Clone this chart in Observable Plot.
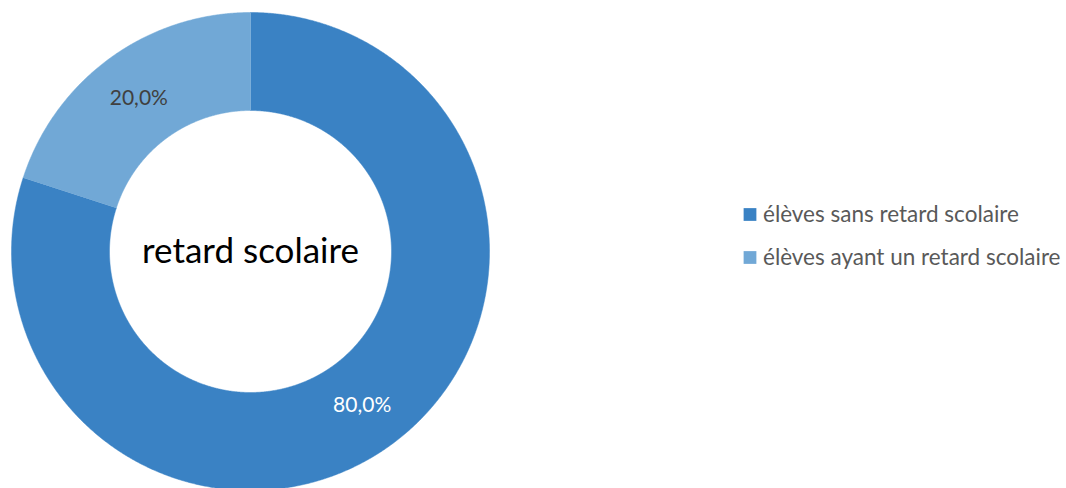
<!DOCTYPE html>
<html><head><meta charset="utf-8">
<script src="https://cdn.jsdelivr.net/npm/d3@7"></script>
<script src="https://cdn.jsdelivr.net/npm/@observablehq/plot@0.6"></script>
<style>html,body{margin:0;padding:0;background:#fff;} svg{display:block;}</style>
</head><body><div id="chart"></div>
<script>
const categories = ["élèves sans retard scolaire", "élèves ayant un retard scolaire"];
const values = [80.0, 20.0];
const labels = ["80,0%", "20,0%"];
const colors = ["#3A82C4", "#71A8D6"];
const centerTitle = "retard scolaire";

const W = 1066, H = 488;
const cx = 250, cy = 251, rOuter = 239, rInner = 141;

const pie = d3.pie().sort(null).value(d => d.value);
const arcs = pie(categories.map((c, i) => ({category: c, value: values[i], label: labels[i]})));

// ring polygons sampled from pie angles
const ringPts = [];
arcs.forEach(a => {
  const n = Math.max(2, Math.ceil((a.endAngle - a.startAngle) / 0.005));
  const pts = [];
  for (let k = 0; k <= n; k++) {
    const t = a.startAngle + (a.endAngle - a.startAngle) * k / n;
    pts.push([cx + rOuter * Math.sin(t), cy - rOuter * Math.cos(t)]);
  }
  for (let k = n; k >= 0; k--) {
    const t = a.startAngle + (a.endAngle - a.startAngle) * k / n;
    pts.push([cx + rInner * Math.sin(t), cy - rInner * Math.cos(t)]);
  }
  pts.forEach(p => ringPts.push({category: a.data.category, x: p[0], y: p[1]}));
});

const rMid = (rOuter + rInner) / 2;
const labelPts = arcs.map(a => {
  const m = (a.startAngle + a.endAngle) / 2;
  return {label: a.data.label, x: cx + rMid * Math.sin(m), y: cy - rMid * Math.cos(m), white: a.data.value > 50};
});

const legendRows = categories.map((c, i) => ({category: c, x: 749.5, y: 214 + i * 43}));

const font = "Lato, 'Open Sans', sans-serif";

const chart = Plot.plot({
  width: W, height: H,
  margin: 0,
  x: {domain: [0, W], range: [0, W], axis: null},
  y: {domain: [0, H], range: [0, H], axis: null},
  color: {domain: categories, range: colors},
  style: {fontFamily: font, background: "#fff"},
  marks: [
    Plot.line(ringPts, {x: "x", y: "y", z: "category", fill: "category", stroke: "category", strokeWidth: 0.5, curve: "linear"}),
    Plot.text(labelPts.filter(d => !d.white), {x: "x", y: "y", text: "label", fill: "#404040", fontSize: 21, fontFamily: font}),
    Plot.text(labelPts.filter(d => d.white), {x: "x", y: "y", text: "label", fill: "#ffffff", fontSize: 21, fontFamily: font}),
    Plot.text([centerTitle], {x: () => cx, y: () => cy, text: d => d, fill: "#000", fontSize: 35, fontFamily: font}),
    Plot.dot(legendRows, {x: "x", y: "y", symbol: "square", r: 7.2, fill: "category", stroke: null}),
    Plot.text(legendRows, {x: d => d.x + 13, y: "y", text: "category", textAnchor: "start", fill: "#595959", fontSize: 22.5, fontFamily: font})
  ]
});
document.getElementById("chart").appendChild(chart);
</script></body></html>
